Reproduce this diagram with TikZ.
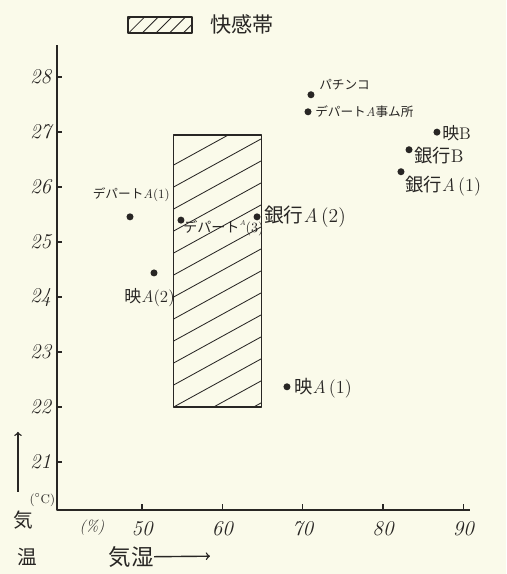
\documentclass[tikz,border=0pt]{standalone}
\usepackage{fontspec}
\newfontfamily\jp{Noto Sans CJK JP}
\newcommand{\jtxt}[1]{{\jp #1}}
\definecolor{paper}{RGB}{250,250,234}
\definecolor{ink}{RGB}{40,38,36}
\tikzset{
  dot/.style={circle, fill=ink, inner sep=0pt, minimum size=5pt},
  lbl/.style={inner sep=0pt, text=ink},
  num/.style={inner sep=0pt, text=ink, font=\fontsize{15}{17}\selectfont\itshape},
  axis/.style={line width=1.4pt},
  zone/.style={line width=1pt},
  hatch/.style={line width=0.6pt},
}
\begin{document}
\begin{tikzpicture}[x=0.20075cm, y=1.375cm, ink, line join=round]
\fill[paper] (32.3,18.966) rectangle (95.32,29.403);
\useasboundingbox (32.3,18.966) rectangle (95.32,29.403);
% legend
\coordinate (K_a) at (48.24,28.80);
\coordinate (K_b) at (56.21,29.09);
\begin{scope}
\clip (K_a) rectangle (K_b);
\foreach \s in {46.6,48.3,...,56.0} \draw[hatch] (\s,28.80) -- ++(1.99,0.29);
\end{scope}
\draw[zone] (K_a) rectangle (K_b);
\node[lbl, anchor=west, font=\fontsize{15}{17}\selectfont] (K_text) at (58.45,28.95) {\jtxt{快感帯}};
% comfort zone
\coordinate (Z_a) at (53.9,22);
\coordinate (Z_b) at (64.9,26.95);
\begin{scope}
\clip (Z_a) rectangle (Z_b);
\foreach \k in {21.2,21.6,...,26.8} \draw[hatch] (53.9,\k) -- (64.9,\k+0.883);
\end{scope}
\draw[zone] (Z_a) rectangle (Z_b);
% axes
\coordinate (O) at (39.4,20.13);
\coordinate (Y_top) at (39.4,28.58);
\coordinate (X_end) at (90.83,20.13);
\draw[axis] (Y_top) -- (O) -- (X_end);
\foreach \t in {21,...,28} {
  \draw[line width=1pt] (39.4,\t) -- ++(0.62,0);
  \node[num, anchor=east] (Y_\t) at (38.7,\t) {\t};
}
\foreach \h in {50,60,...,90} {
  \draw[line width=1pt] (\h,20.13) -- ++(0,0.11);
  \node[num] (X_\h) at (\h,19.79) {\h};
}
\node[lbl, font=\fontsize{11}{13}\selectfont\itshape] (X_unit) at (43.76,19.80) {(\%)};
\node[lbl, font=\fontsize{9}{11}\selectfont, anchor=east] (Y_unit) at (39.2,20.31) {($^\circ$C)};
\node[lbl, font=\fontsize{14}{16}\selectfont] (T_1) at (35.17,19.95) {\jtxt{気}};
\node[lbl, font=\fontsize{14}{16}\selectfont] (T_2) at (35.66,19.28) {\jtxt{温}};
\coordinate (T_from) at (34.54,20.46);
\coordinate (T_to) at (34.54,21.55);
\draw[line width=1pt, ->] (T_from) -- (T_to);
\node[lbl, font=\fontsize{16}{18}\selectfont, anchor=east] (H_text) at (51.5,19.28) {\jtxt{気湿}};
\coordinate (H_to) at (58.45,19.29);
\draw[line width=1pt, ->] (H_text.east) -- (H_to);
% points
\node[dot] (P_pachinko) at (71.03,27.68) {};
\node[lbl, anchor=west, font=\fontsize{9}{11}\selectfont] (L_pachinko) at (72.03,27.86) {\jtxt{パチンコ}};
\node[dot] (P_deptoffice) at (70.66,27.37) {};
\node[lbl, anchor=west, font=\fontsize{9}{11}\selectfont] (L_deptoffice) at (71.53,27.37) {\jtxt{デパート}{\itshape A}\jtxt{事ム所}};
\node[dot] (P_eiB) at (86.72,27.0) {};
\node[lbl, anchor=west, font=\fontsize{12}{14}\selectfont] (L_eiB) at (87.35,26.98) {\jtxt{映}B};
\node[dot] (P_ginB) at (83.24,26.68) {};
\node[lbl, anchor=west, font=\fontsize{13}{15}\selectfont] (L_ginB) at (83.86,26.58) {\jtxt{銀行}B};
\node[dot] (P_ginA1) at (82.24,26.28) {};
\node[lbl, anchor=west, font=\fontsize{13}{15}\selectfont] (L_ginA1) at (82.74,26.02) {\jtxt{銀行}{\itshape A}\,(1)};
\node[dot] (P_deptA1) at (48.49,25.46) {};
\node[lbl, anchor=east, font=\fontsize{9}{11}\selectfont] (L_deptA1) at (53.47,25.86) {\jtxt{デパート}{\itshape A}(1)};
\node[dot] (P_eiA2) at (51.48,24.44) {};
\node[lbl, anchor=east, font=\fontsize{12}{14}\selectfont] (L_eiA2) at (54.09,24.0) {\jtxt{映}{\itshape A}(2)};
\node[dot] (P_deptA3) at (54.84,25.40) {};
\node[lbl, anchor=west, font=\fontsize{10}{12}\selectfont] (L_deptA3) at (55.09,25.26) {\jtxt{デパート}\raisebox{1.1ex}{\tiny\itshape A}(3)};
\node[dot] (P_ginA2) at (64.31,25.46) {};
\node[lbl, anchor=west, font=\fontsize{14}{16}\selectfont] (L_ginA2) at (65.18,25.46) {\jtxt{銀行}{\itshape A}\,(2)};
\node[dot] (P_eiA1) at (68.04,22.37) {};
\node[lbl, anchor=west, font=\fontsize{13}{15}\selectfont] (L_eiA1) at (68.91,22.35) {\jtxt{映}{\itshape A}\,(1)};
\end{tikzpicture}
\end{document}
